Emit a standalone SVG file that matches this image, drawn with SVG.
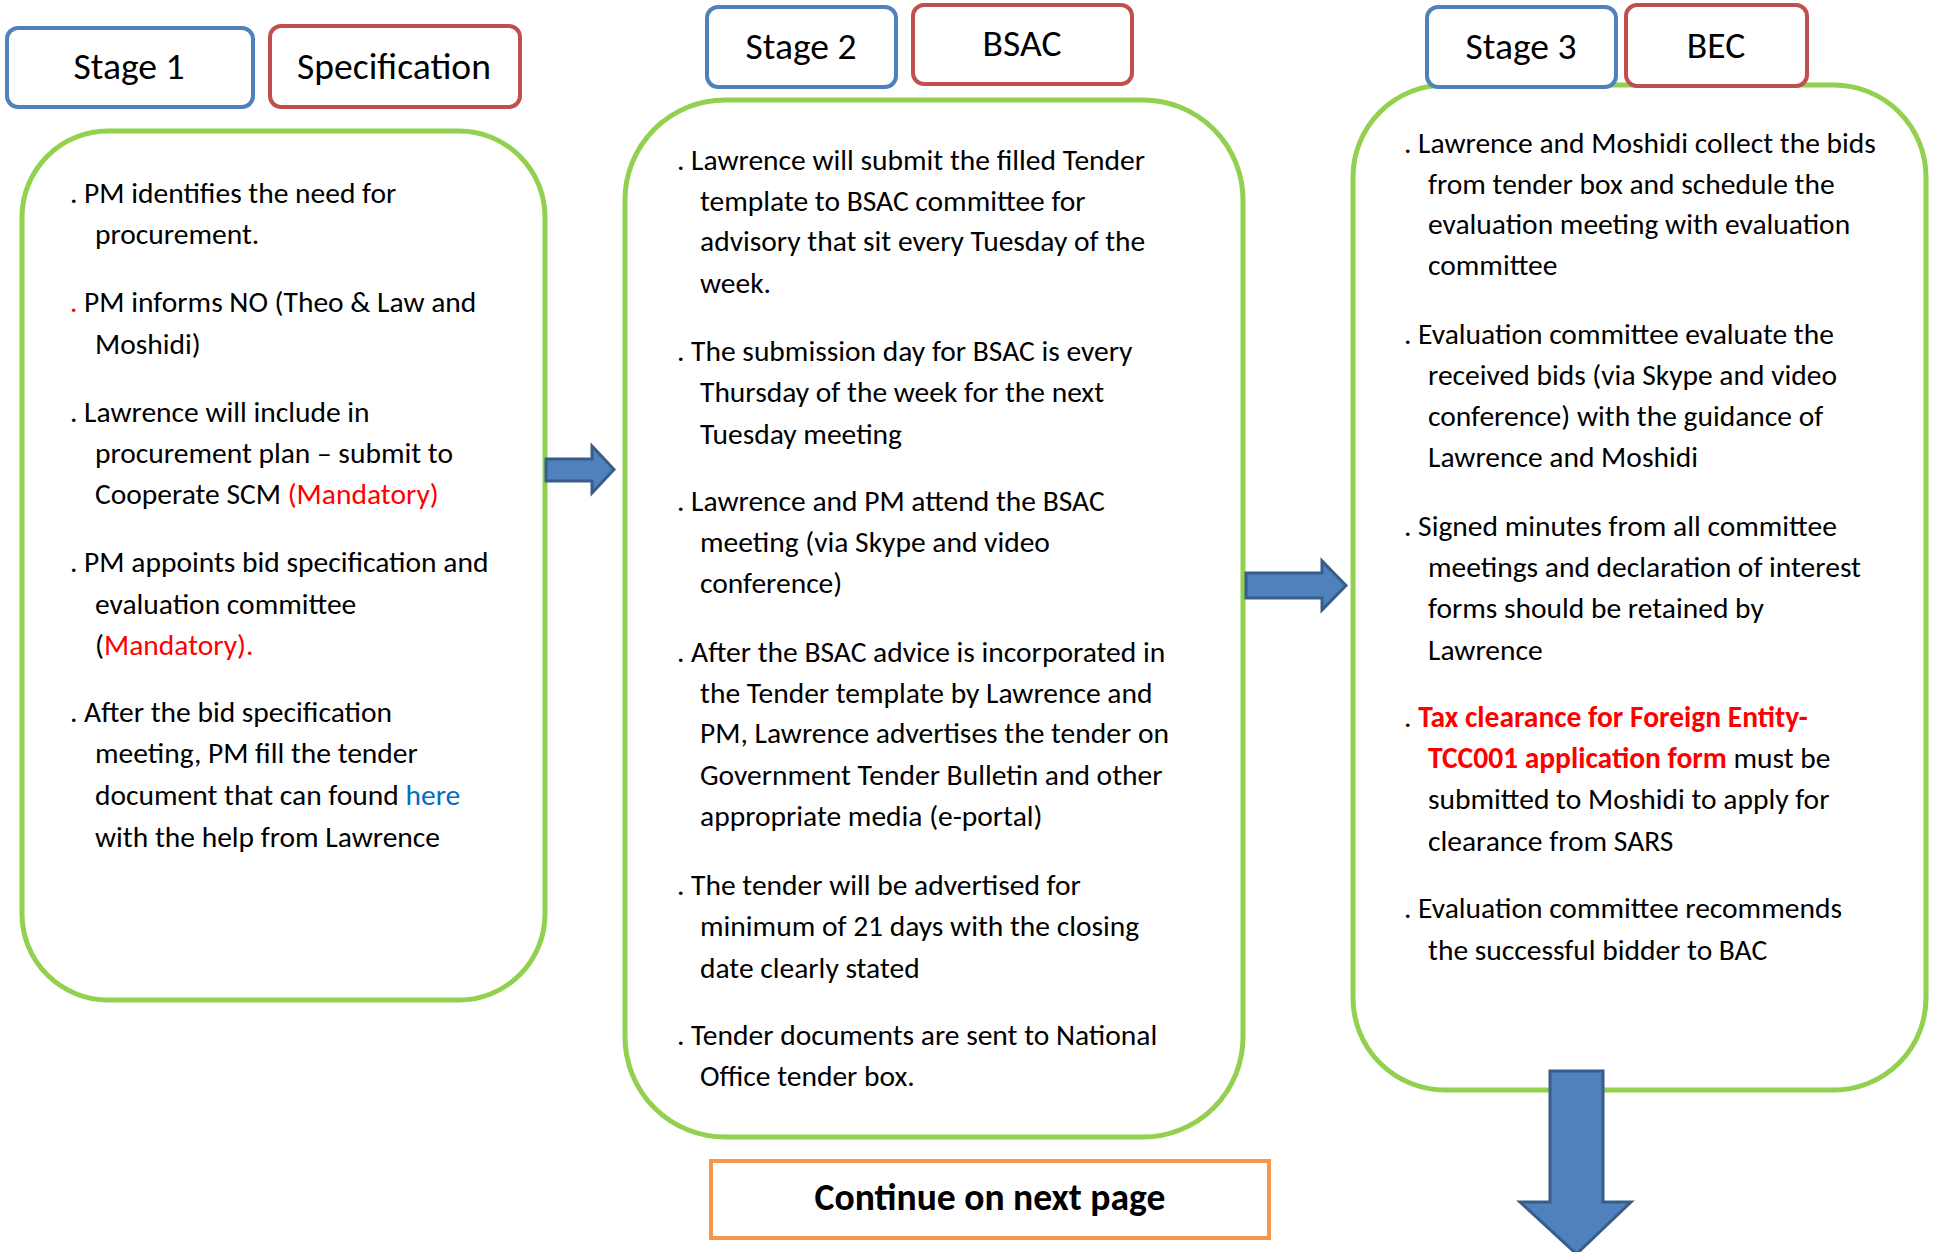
<svg xmlns="http://www.w3.org/2000/svg" width="1933" height="1252" viewBox="0 0 1933 1252">
<style>
.stage{fill:#fff;stroke:#4F81BD;stroke-width:4}
.role{fill:#fff;stroke:#C0504D;stroke-width:4}
.panel{fill:#fff;stroke:#92D050;stroke-width:5}
.cont{fill:#fff;stroke:#F79646;stroke-width:4}
.arrow{fill:#4F81BD;stroke:#385D8A;stroke-width:3}
text{font-family:Carlito,Lato,"Liberation Sans",sans-serif;fill:#000}
.t{font-size:37.6px;text-anchor:middle}
.b{font-size:29.5px}
.red{fill:#FF0000}
.link{fill:#0070C0}
.bold{font-weight:bold}
</style>
<rect width="1933" height="1252" fill="#fff"/>
<g id="panel1">
<rect class="panel" x="22" y="131" width="523" height="869" rx="86"/>
<text class="b" x="70" y="203">. PM identifies the need for</text>
<text class="b" x="95" y="244">procurement.</text>
<text class="b" x="70" y="312" xml:space="preserve"><tspan class="red">.</tspan> PM informs NO (Theo &amp; Law and</text>
<text class="b" x="95" y="354">Moshidi)</text>
<text class="b" x="70" y="422">. Lawrence will include in</text>
<text class="b" x="95" y="463">procurement plan – submit to</text>
<text class="b" x="95" y="504" xml:space="preserve">Cooperate SCM <tspan class="red">(Mandatory)</tspan></text>
<text class="b" x="70" y="572">. PM appoints bid specification and</text>
<text class="b" x="95" y="614">evaluation committee</text>
<text class="b" x="95" y="655">(<tspan class="red">Mandatory).</tspan></text>
<text class="b" x="70" y="722">. After the bid specification</text>
<text class="b" x="95" y="763">meeting, PM fill the tender</text>
<text class="b" x="95" y="805" xml:space="preserve">document that can found <tspan class="link">here</tspan></text>
<text class="b" x="95" y="847">with the help from Lawrence</text>
</g>
<g id="stage1"><rect class="stage" x="7" y="28" width="246" height="79" rx="11"/><text class="t" x="129" y="79">Stage 1</text></g>
<g id="spec"><rect class="role" x="270" y="26" width="250" height="81" rx="11"/><text class="t" x="394" y="79">Specification</text></g>

<g id="panel2">
<rect class="panel" x="625" y="100" width="618" height="1037" rx="100"/>
<text class="b" x="677" y="170">. Lawrence will submit the filled Tender</text>
<text class="b" x="700" y="211">template to BSAC committee for</text>
<text class="b" x="700" y="251">advisory that sit every Tuesday of the</text>
<text class="b" x="700" y="293">week.</text>
<text class="b" x="677" y="361">. The submission day for BSAC is every</text>
<text class="b" x="700" y="402">Thursday of the week for the next</text>
<text class="b" x="700" y="444">Tuesday meeting</text>
<text class="b" x="677" y="511">. Lawrence and PM attend the BSAC</text>
<text class="b" x="700" y="552">meeting (via Skype and video</text>
<text class="b" x="700" y="593">conference)</text>
<text class="b" x="677" y="662">. After the BSAC advice is incorporated in</text>
<text class="b" x="700" y="703">the Tender template by Lawrence and</text>
<text class="b" x="700" y="743">PM, Lawrence advertises the tender on</text>
<text class="b" x="700" y="785">Government Tender Bulletin and other</text>
<text class="b" x="700" y="826">appropriate media (e-portal)</text>
<text class="b" x="677" y="895">. The tender will be advertised for</text>
<text class="b" x="700" y="936">minimum of 21 days with the closing</text>
<text class="b" x="700" y="978">date clearly stated</text>
<text class="b" x="677" y="1045">. Tender documents are sent to National</text>
<text class="b" x="700" y="1086">Office tender box.</text>
</g>
<g id="stage2"><rect class="stage" x="707" y="7" width="189" height="80" rx="11"/><text class="t" x="801" y="59">Stage 2</text></g>
<g id="bsac"><rect class="role" x="913" y="5" width="219" height="79" rx="11"/><text class="t" x="1022" y="56">BSAC</text></g>

<g id="panel3">
<rect class="panel" x="1353" y="85" width="573" height="1005" rx="92"/>
<text class="b" x="1404" y="153">. Lawrence and Moshidi collect the bids</text>
<text class="b" x="1428" y="194">from tender box and schedule the</text>
<text class="b" x="1428" y="234">evaluation meeting with evaluation</text>
<text class="b" x="1428" y="275">committee</text>
<text class="b" x="1404" y="344">. Evaluation committee evaluate the</text>
<text class="b" x="1428" y="385">received bids (via Skype and video</text>
<text class="b" x="1428" y="426">conference) with the guidance of</text>
<text class="b" x="1428" y="467">Lawrence and Moshidi</text>
<text class="b" x="1404" y="536">. Signed minutes from all committee</text>
<text class="b" x="1428" y="577">meetings and declaration of interest</text>
<text class="b" x="1428" y="618">forms should be retained by</text>
<text class="b" x="1428" y="660">Lawrence</text>
<text class="b" x="1404" y="727" xml:space="preserve">. <tspan class="red bold">Tax clearance for Foreign Entity-</tspan></text>
<text class="b" x="1428" y="768" xml:space="preserve"><tspan class="red bold">TCC001 application form</tspan> must be</text>
<text class="b" x="1428" y="809">submitted to Moshidi to apply for</text>
<text class="b" x="1428" y="851">clearance from SARS</text>
<text class="b" x="1404" y="918">. Evaluation committee recommends</text>
<text class="b" x="1428" y="960">the successful bidder to BAC</text>
</g>
<g id="stage3"><rect class="stage" x="1427" y="7" width="189" height="80" rx="11"/><text class="t" x="1521" y="59">Stage 3</text></g>
<g id="bec"><rect class="role" x="1626" y="5" width="181" height="81" rx="11"/><text class="t" x="1716" y="58">BEC</text></g>

<g id="continue"><rect class="cont" x="711" y="1161" width="558" height="77"/><text class="t bold" x="990" y="1210">Continue on next page</text></g>

<g id="connectors">
<path class="arrow" d="M546,459 H592 V446 L614,469.5 L592,493 V481 H546 Z"/>
<path class="arrow" d="M1246,573 H1322 V561 L1346,585.5 L1322,610 V598 H1246 Z"/>
<path class="arrow" d="M1550,1071 H1603 V1202 H1631 L1576.5,1254 L1520,1202 H1550 Z"/>
</g>
</svg>
